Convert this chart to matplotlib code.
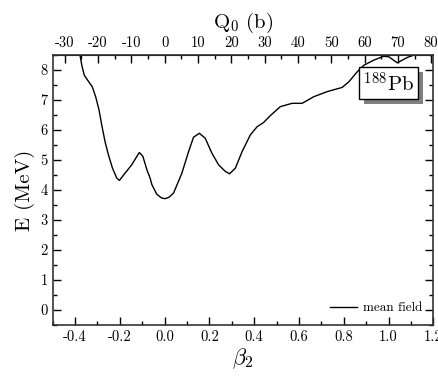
import matplotlib
matplotlib.use("Agg")
import matplotlib.pyplot as plt
from matplotlib.ticker import MultipleLocator
import matplotlib.patheffects as pe

plt.rcParams["font.family"] = "serif"
plt.rcParams["font.serif"] = ["cmr10"]
plt.rcParams["mathtext.fontset"] = "cm"
plt.rcParams["axes.unicode_minus"] = False

# Mean-field energy curve of 188Pb versus quadrupole deformation
beta2 = [-0.382, -0.378, -0.370, -0.359, -0.341, -0.323, -0.308, -0.293, -0.281,
         -0.266, -0.251, -0.233, -0.214, -0.202, -0.177, -0.147, -0.124, -0.113,
         -0.097, -0.079, -0.065, -0.057, -0.035, -0.015, 0.002, 0.020, 0.040,
         0.077, 0.107, 0.129, 0.155, 0.181, 0.211, 0.241, 0.271, 0.290, 0.316,
         0.346, 0.383, 0.413, 0.442, 0.472, 0.517, 0.569, 0.614, 0.666, 0.726,
         0.793, 0.823, 0.860, 0.890, 0.934, 0.979, 1.002, 1.039, 1.084, 1.114, 1.125]
energy = [8.60, 8.50, 8.16, 7.83, 7.63, 7.44, 7.11, 6.67, 6.17,
          5.61, 5.17, 4.73, 4.40, 4.32, 4.56, 4.84, 5.12, 5.25,
          5.12, 4.67, 4.40, 4.18, 3.86, 3.74, 3.71, 3.76, 3.90,
          4.56, 5.28, 5.76, 5.89, 5.73, 5.23, 4.84, 4.62, 4.54, 4.73,
          5.28, 5.84, 6.11, 6.25, 6.48, 6.78, 6.89, 6.89, 7.11, 7.28,
          7.42, 7.61, 7.94, 8.16, 8.33, 8.46, 8.44, 8.24, 8.42, 8.50, 8.60]

nucleus_label = r"$^{188}$Pb"
series_label = "mean field"
q0_per_beta = 67.2  # Q0 (b) per unit beta2 for A = 188

fig = plt.figure(figsize=(4.39, 3.77), dpi=100)
ax = fig.add_axes([0.120, 0.138, 0.867, 0.716])

ax.plot(beta2, energy, color="black", lw=1.0, label=series_label,
        solid_joinstyle="round")

ax.set_xlim(-0.5, 1.2)
ax.set_ylim(-0.5, 8.5)
ax.xaxis.set_major_locator(MultipleLocator(0.2))
ax.xaxis.set_minor_locator(MultipleLocator(0.1))
ax.yaxis.set_major_locator(MultipleLocator(1))
ax.yaxis.set_minor_locator(MultipleLocator(0.5))
ax.xaxis.set_major_formatter(plt.FuncFormatter(lambda v, p: f"{v:.1f}"))

ax.tick_params(which="both", direction="in", labelsize=10.5, top=False, right=True,
               width=1.0)
ax.tick_params(which="major", length=6)
ax.tick_params(which="minor", length=3)
for s in ax.spines.values():
    s.set_linewidth(1.2)
    s.set_color("#333333")

ax.set_xlabel(r"$\beta_2$", fontsize=16, labelpad=2)
ax.set_ylabel("E (MeV)", fontsize=15, labelpad=4)

top = ax.secondary_xaxis("top", functions=(lambda b: b * q0_per_beta,
                                           lambda q: q / q0_per_beta))
top.xaxis.set_major_locator(MultipleLocator(10))
top.xaxis.set_minor_locator(MultipleLocator(5))
top.xaxis.set_major_formatter(plt.FuncFormatter(lambda v, p: f"{v:.0f}"))
top.tick_params(which="both", direction="in", labelsize=10.5, width=1.0)
top.tick_params(which="major", length=6)
top.tick_params(which="minor", length=3)
top.set_xlabel(r"Q$_0$ (b)", fontsize=15, labelpad=6)

t = ax.text(1.0, 7.56, nucleus_label, fontsize=15, ha="center", va="center",
            bbox=dict(boxstyle="square,pad=0.2", fc="white", ec="black", lw=1.0),
            zorder=5)
t.get_bbox_patch().set_path_effects([
    pe.SimplePatchShadow(offset=(3.6, -3.6), shadow_rgbFace="#808080", alpha=1.0),
    pe.Normal()])

ax.legend(loc="lower right", frameon=False, fontsize=9.5, handlelength=2.0,
          handletextpad=0.5, borderaxespad=0.4)

fig.savefig("out.png", dpi=100)
